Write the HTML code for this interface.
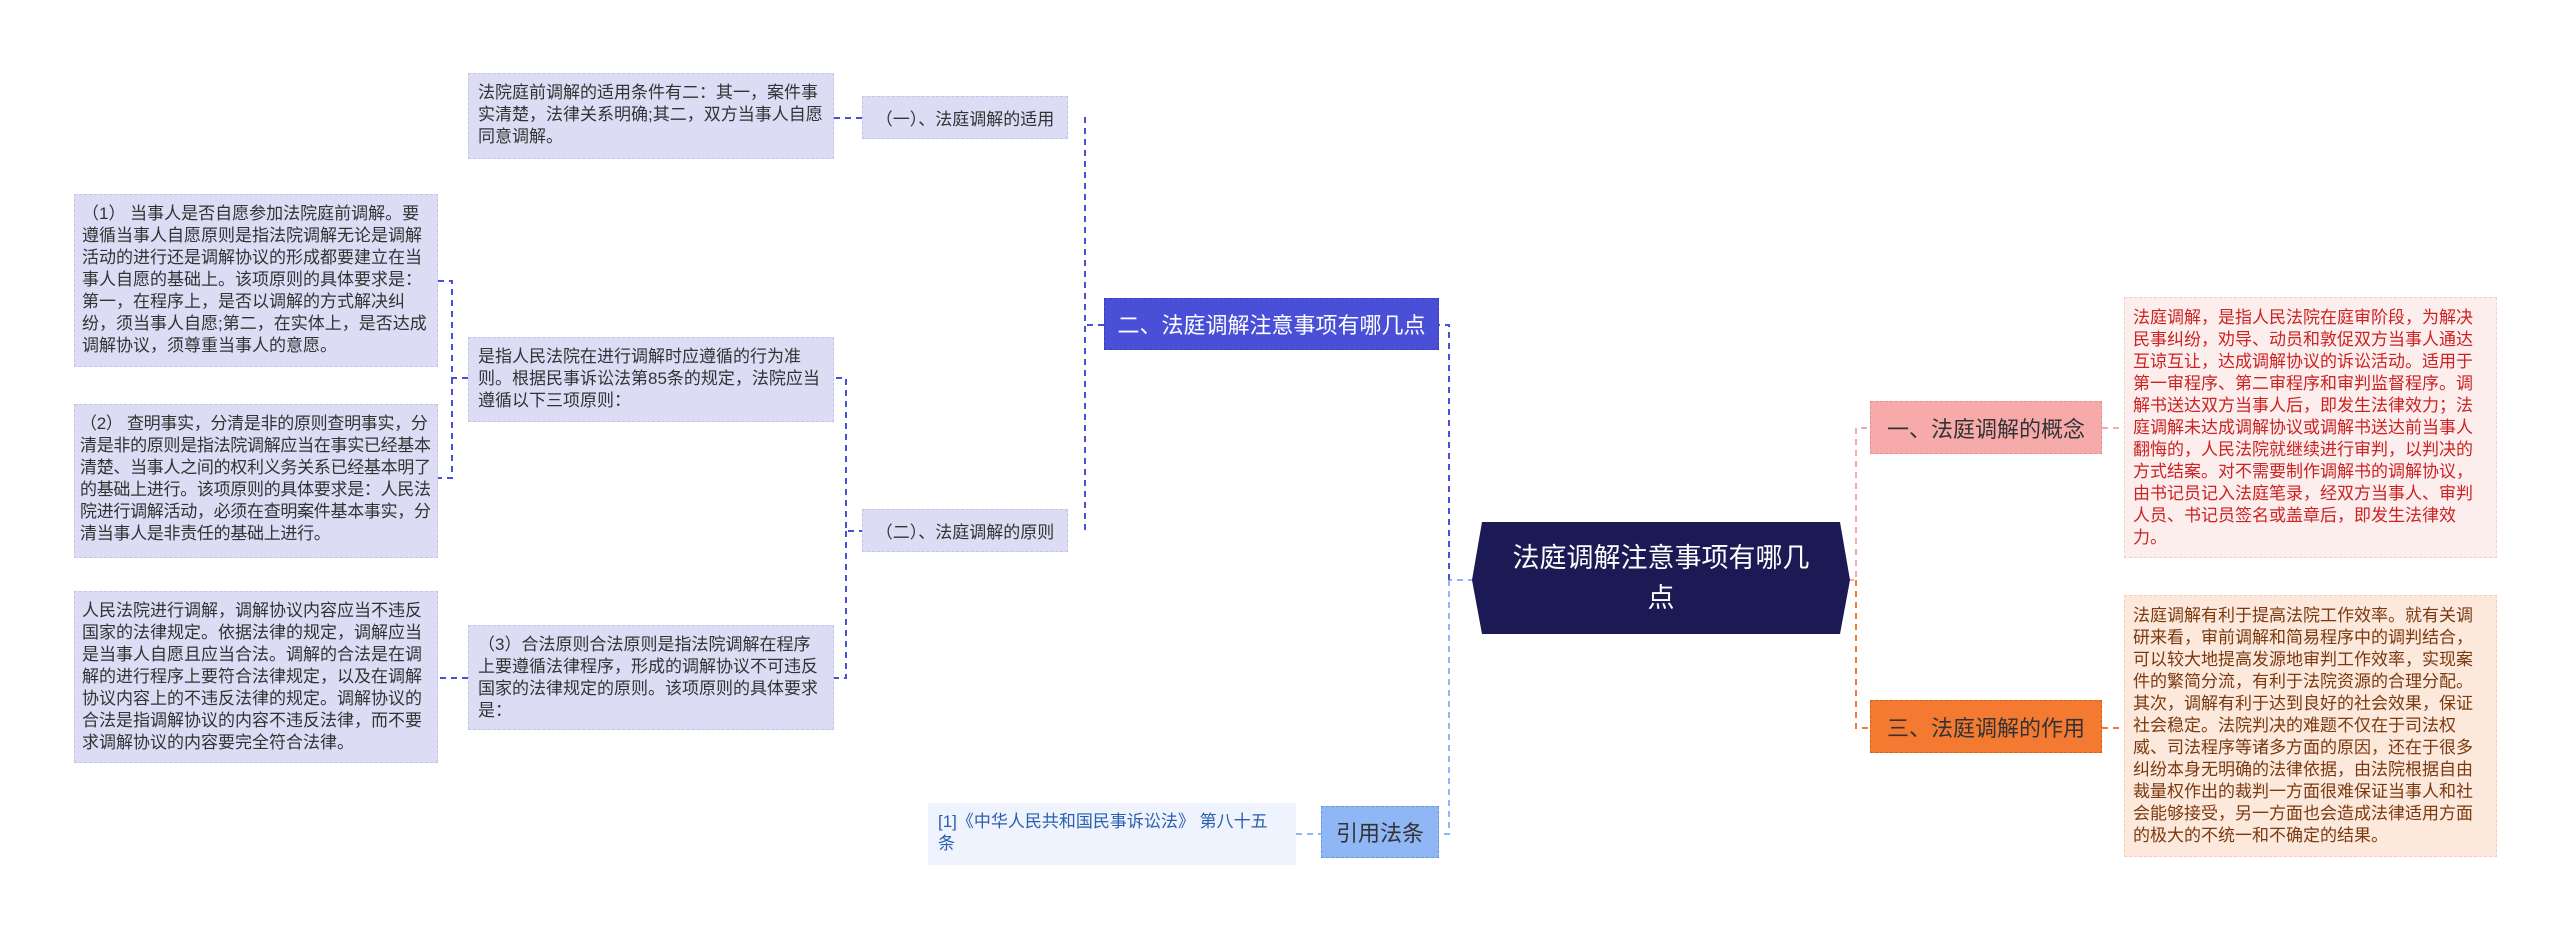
<!DOCTYPE html>
<html><head><meta charset="utf-8"><style>
body{margin:0;width:2560px;height:935px;background:#fff;position:relative;overflow:hidden;font-family:"Liberation Sans","Noto Sans CJK SC",sans-serif;}
.b{position:absolute;box-sizing:border-box;font-size:17px;line-height:22px;color:#333;padding:8px 9px;}
.p{background:#dcdcf5;border:1px dashed #c4c4ee;}
.n{position:absolute;box-sizing:border-box;display:flex;align-items:center;justify-content:center;white-space:nowrap;}
svg{position:absolute;left:0;top:0;}
</style></head><body>
<svg width="2560" height="935">
<g fill="none" stroke-width="2" stroke-dasharray="6,5">
<path d="M1474 580 H1449" stroke="#8fb6f5"/>
<path d="M1449 580 V325 H1439" stroke="#4a4fd8"/>
<path d="M1449 580 V834 H1439" stroke="#8fb6f5"/>
<path d="M1296 834 H1326" stroke="#8fb6f5"/>
<path d="M1104 325 H1085 M1086 118 H1085 V531 H1086" stroke="#4a4fd8"/>
<path d="M834 118 H865" stroke="#4a4fd8"/>
<path d="M865 531 H846 V378 H834 M846 531 V678 H834" stroke="#4a4fd8"/>
<path d="M468 378 H452 V281 H438 M452 378 V478 H438" stroke="#4a4fd8"/>
<path d="M468 678 H438" stroke="#4a4fd8"/>
<path d="M1848 580 H1856 V428 H1870 M2102 428 H2133" stroke="#f7aaaa"/>
<path d="M1856 580 V728 H1870 M2102 728 H2133" stroke="#f47a32"/>
</g>
<polygon points="1482,522 1840,522 1850,580 1840,634 1482,634 1472,580" fill="#1b1a55"/>
</svg>
<div class="n" style="left:1482px;top:522px;width:358px;height:112px;color:#fff;font-size:27px;line-height:40px;white-space:normal;text-align:center;padding:0 18px;">法庭调解注意事项有哪几点</div>
<div class="n" style="left:1104px;top:298px;width:335px;height:52px;background:#4a4fd8;border:1px dashed #3a3fb8;color:#fff;font-size:22px;">二、法庭调解注意事项有哪几点</div>
<div class="n p" style="left:862px;top:96px;width:206px;height:43px;font-size:17px;color:#333;">（一）、法庭调解的适用</div>
<div class="n p" style="left:862px;top:509px;width:206px;height:43px;font-size:17px;color:#333;">（二）、法庭调解的原则</div>
<div class="b p" style="left:468px;top:73px;width:366px;height:86px;">法院庭前调解的适用条件有二：其一，案件事实清楚，法律关系明确;其二，双方当事人自愿同意调解。</div>
<div class="b p" style="left:468px;top:337px;width:366px;height:85px;">是指人民法院在进行调解时应遵循的行为准则。根据民事诉讼法第85条的规定，法院应当遵循以下三项原则：</div>
<div class="b p" style="left:74px;top:194px;width:364px;height:173px;padding:8px 7px;">（1） 当事人是否自愿参加法院庭前调解。要遵循当事人自愿原则是指法院调解无论是调解活动的进行还是调解协议的形成都要建立在当事人自愿的基础上。该项原则的具体要求是：第一，在程序上，是否以调解的方式解决纠纷，须当事人自愿;第二，在实体上，是否达成调解协议，须尊重当事人的意愿。</div>
<div class="b p" style="left:74px;top:404px;width:364px;height:154px;padding:8px 5px;letter-spacing:-0.3px;">（2） 查明事实，分清是非的原则查明事实，分清是非的原则是指法院调解应当在事实已经基本清楚、当事人之间的权利义务关系已经基本明了的基础上进行。该项原则的具体要求是：人民法院进行调解活动，必须在查明案件基本事实，分清当事人是非责任的基础上进行。</div>
<div class="b p" style="left:468px;top:625px;width:366px;height:105px;">（3）合法原则合法原则是指法院调解在程序上要遵循法律程序，形成的调解协议不可违反国家的法律规定的原则。该项原则的具体要求是：</div>
<div class="b p" style="left:74px;top:591px;width:364px;height:172px;padding:8px 7px;">人民法院进行调解，调解协议内容应当不违反国家的法律规定。依据法律的规定，调解应当是当事人自愿且应当合法。调解的合法是在调解的进行程序上要符合法律规定，以及在调解协议内容上的不违反法律的规定。调解协议的合法是指调解协议的内容不违反法律，而不要求调解协议的内容要完全符合法律。</div>
<div class="n" style="left:1321px;top:806px;width:118px;height:52px;background:#8fb6f5;border:1px dashed #6f96d5;color:#333;font-size:22px;">引用法条</div>
<div class="b" style="left:928px;top:803px;width:368px;height:62px;background:#eef3fd;color:#2a5fb0;font-size:17px;padding:8px 14px 8px 10px;">[1]《中华人民共和国民事诉讼法》 第八十五条</div>
<div class="n" style="left:1870px;top:401px;width:232px;height:53px;background:#f7aaaa;border:1px dashed #e89090;color:#333;font-size:22px;">一、法庭调解的概念</div>
<div class="n" style="left:1870px;top:700px;width:232px;height:53px;background:#f47a32;border:1px dashed #d46020;color:#333;font-size:22px;">三、法庭调解的作用</div>
<div class="b" style="left:2124px;top:297px;width:373px;height:261px;background:#fdeeee;border:1px dashed #f6d0d0;color:#cc2222;padding:9px 8px;">法庭调解，是指人民法院在庭审阶段，为解决民事纠纷，劝导、动员和敦促双方当事人通达互谅互让，达成调解协议的诉讼活动。适用于第一审程序、第二审程序和审判监督程序。调解书送达双方当事人后，即发生法律效力；法庭调解未达成调解协议或调解书送达前当事人翻悔的，人民法院就继续进行审判，以判决的方式结案。对不需要制作调解书的调解协议，由书记员记入法庭笔录，经双方当事人、审判人员、书记员签名或盖章后，即发生法律效力。</div>
<div class="b" style="left:2124px;top:595px;width:373px;height:262px;background:#fde8dc;border:1px dashed #f6cdb6;color:#7a3a10;padding:9px 8px;">法庭调解有利于提高法院工作效率。就有关调研来看，审前调解和简易程序中的调判结合，可以较大地提高发源地审判工作效率，实现案件的繁简分流，有利于法院资源的合理分配。其次，调解有利于达到良好的社会效果，保证社会稳定。法院判决的难题不仅在于司法权威、司法程序等诸多方面的原因，还在于很多纠纷本身无明确的法律依据，由法院根据自由裁量权作出的裁判一方面很难保证当事人和社会能够接受，另一方面也会造成法律适用方面的极大的不统一和不确定的结果。</div>
</body></html>
